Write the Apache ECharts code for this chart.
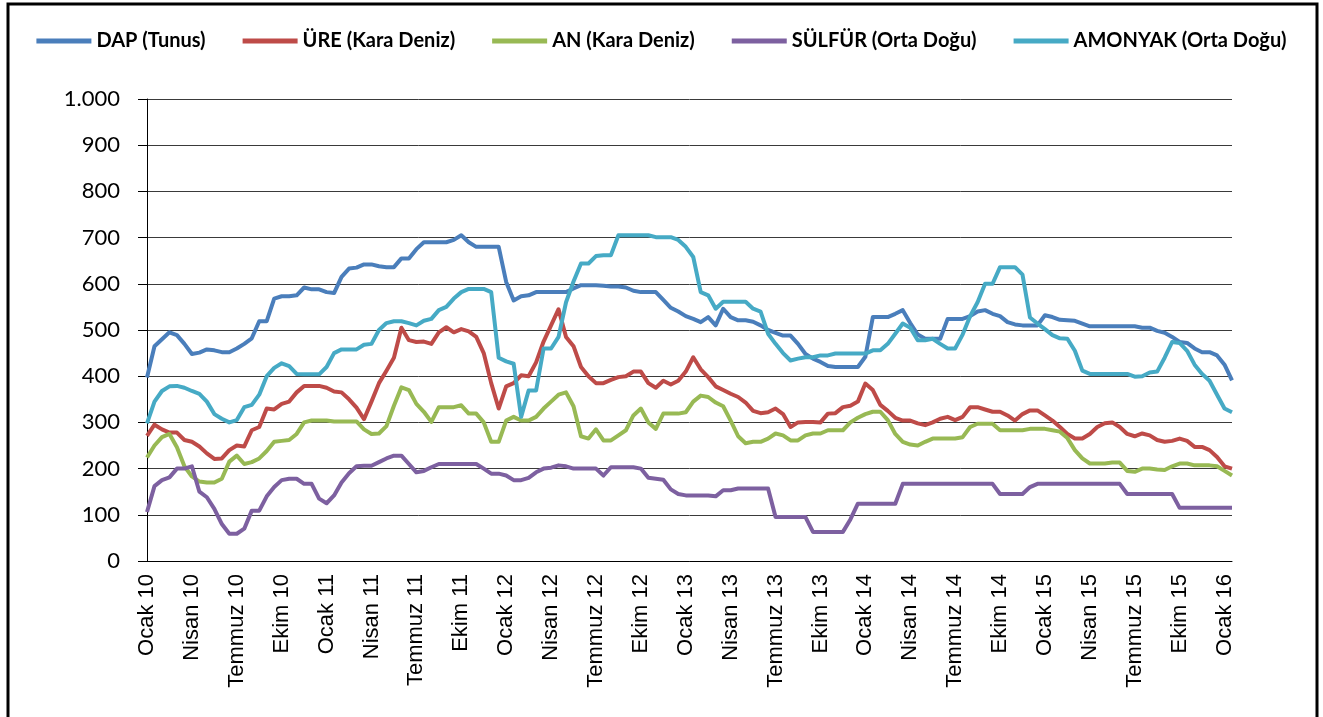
<!DOCTYPE html>
<html lang="tr" style="height: 100%">
<head>
  <meta charset="utf-8">
</head>
<body style="height: 100%; margin: 0; background: #fff">
<div id="container" style="width: 1323px; height: 717px"></div>

<script type="text/javascript" src="https://cdn.jsdelivr.net/npm/echarts@6.0.0/dist/echarts.min.js"></script>
<script type="text/javascript">
  // iki haftalik noktalar, Ocak 2010 - Ocak 2016 (146 nokta)
  var tickLabels = ['Ocak 10', 'Nisan 10', 'Temmuz 10', 'Ekim 10', 'Ocak 11', 'Nisan 11', 'Temmuz 11', 'Ekim 11',
    'Ocak 12', 'Nisan 12', 'Temmuz 12', 'Ekim 12', 'Ocak 13', 'Nisan 13', 'Temmuz 13', 'Ekim 13',
    'Ocak 14', 'Nisan 14', 'Temmuz 14', 'Ekim 14', 'Ocak 15', 'Nisan 15', 'Temmuz 15', 'Ekim 15', 'Ocak 16'];

  var dap = [397, 465, 480, 495, 489, 470, 448, 451, 458, 456, 452, 452, 460, 470, 482, 519, 519, 568, 573, 573,
    575, 592, 588, 588, 582, 580, 615, 633, 635, 642, 642, 638, 636, 636, 655, 655, 675,
    690, 690, 690, 690, 695, 705, 690, 680, 680, 680, 680, 604, 564, 573, 575, 582, 582, 582, 582, 582,
    590, 597, 597, 597, 596, 594, 594, 592, 585, 582, 582, 582, 565, 548, 540, 530,
    524, 517, 528, 510, 546, 528, 521, 521, 518, 510, 500, 494, 488, 488, 470, 448, 438, 431, 422, 420,
    420, 420, 420, 442, 528, 528, 528, 535, 543, 515, 490, 481, 481, 481, 524, 524,
    524, 530, 540, 543, 535, 530, 517, 512, 510, 510, 510, 532, 528, 522, 521, 520, 514, 508, 508, 508,
    508, 508, 508, 508, 505, 505, 498, 494, 485, 474, 472, 460, 452, 452, 445, 425, 391];

  var ure = [271, 295, 285, 278, 278, 262, 258, 248, 233, 221, 222, 240, 250, 248, 283, 290, 330, 328, 340, 345,
    365, 379, 379, 379, 375, 367, 365, 350, 332, 307, 345, 385, 412, 440, 505, 478, 474,
    475, 470, 495, 506, 495, 502, 497, 485, 450, 385, 330, 378, 385, 402, 400, 430, 475, 510, 545, 485,
    465, 420, 400, 385, 385, 392, 398, 400, 410, 410, 385, 375, 390, 382, 390, 410,
    441, 415, 398, 378, 370, 362, 355, 343, 325, 320, 322, 330, 318, 290, 300, 301, 301, 300, 319, 320,
    333, 336, 345, 384, 370, 338, 325, 310, 304, 304, 298, 294, 300, 308, 312, 305,
    312, 333, 333, 328, 323, 323, 315, 304, 318, 326, 326, 315, 304, 290, 275, 265, 265, 275, 290, 298,
    300, 290, 275, 270, 276, 272, 262, 258, 260, 265, 260, 247, 247, 240, 225, 205, 200];

  var an = [224, 250, 268, 275, 246, 205, 183, 172, 170, 170, 178, 215, 228, 210, 214, 222, 238, 258, 260, 262,
    275, 300, 304, 304, 304, 302, 302, 302, 302, 285, 275, 276, 292, 336, 376, 370, 340,
    323, 301, 333, 333, 333, 337, 319, 319, 300, 258, 258, 304, 312, 304, 304, 312, 330, 345, 360, 365,
    335, 270, 265, 285, 261, 261, 272, 283, 315, 330, 300, 286, 319, 319, 319, 322,
    345, 358, 355, 343, 335, 304, 270, 255, 258, 258, 265, 276, 272, 261, 261, 272, 276, 276, 283, 283,
    283, 300, 310, 318, 323, 323, 305, 275, 258, 252, 250, 258, 265, 265, 265, 265,
    268, 290, 297, 297, 297, 283, 283, 283, 283, 286, 286, 286, 283, 280, 266, 240, 222, 211, 211, 211,
    213, 213, 195, 193, 200, 200, 198, 197, 205, 211, 211, 207, 207, 207, 205, 195, 185];

  var sulfur = [106, 162, 175, 181, 200, 200, 205, 150, 138, 113, 80, 59, 59, 70, 109, 109, 140, 160, 175, 178,
    178, 167, 167, 135, 125, 142, 170, 190, 205, 206, 206, 214, 222, 228, 228, 210, 192,
    195, 203, 210, 210, 210, 210, 210, 210, 200, 189, 189, 185, 175, 175, 180, 192, 200, 202, 207, 205,
    200, 200, 200, 200, 185, 203, 203, 203, 203, 200, 180, 178, 176, 155, 145, 142,
    142, 142, 142, 140, 153, 153, 157, 157, 157, 157, 157, 95, 95, 95, 95, 95, 63, 63, 63, 63,
    63, 90, 124, 124, 124, 124, 124, 124, 167, 167, 167, 167, 167, 167, 167, 167,
    167, 167, 167, 167, 167, 145, 145, 145, 145, 160, 167, 167, 167, 167, 167, 167, 167, 167, 167, 167,
    167, 167, 145, 145, 145, 145, 145, 145, 145, 115, 115, 115, 115, 115, 115, 115, 115];

  var amonyak = [298, 345, 368, 378, 379, 375, 368, 362, 345, 318, 308, 300, 305, 333, 338, 360, 400, 418, 428, 422,
    405, 404, 404, 404, 420, 450, 458, 458, 458, 468, 470, 500, 515, 519, 519, 515, 510,
    520, 524, 543, 550, 568, 582, 589, 589, 589, 582, 440, 432, 427, 312, 369, 369, 460, 460, 485, 560,
    605, 644, 644, 660, 662, 662, 705, 705, 705, 705, 705, 701, 701, 701, 695, 680,
    658, 582, 575, 546, 561, 561, 561, 561, 546, 540, 492, 470, 450, 434, 438, 441, 441, 445, 445, 449,
    449, 449, 449, 449, 456, 456, 470, 492, 514, 505, 478, 478, 481, 470, 460, 460,
    490, 530, 560, 600, 600, 636, 636, 636, 620, 527, 514, 502, 489, 482, 481, 455, 412, 405, 405, 405,
    405, 405, 405, 399, 400, 408, 410, 440, 474, 472, 455, 425, 405, 390, 360, 330, 322];

  var seriesNames = ['DAP (Tunus)', 'ÜRE (Kara Deniz)', 'AN (Kara Deniz)', 'SÜLFÜR (Orta Doğu)', 'AMONYAK (Orta Doğu)'];
  var seriesColors = ['#4a7ebb', '#be4b48', '#98b954', '#7d60a0', '#46aac5'];
  var seriesData = [dap, ure, an, sulfur, amonyak];

  var categories = [];
  for (var i = 0; i < dap.length; i++) categories.push(String(i));

  var dom = document.getElementById('container');
  var myChart = echarts.init(dom, null, { renderer: 'canvas' });

  var option = {
    animation: false,
    backgroundColor: '#fff',
    graphic: [{
      type: 'rect',
      shape: { x: 8, y: 4, width: 1309, height: 730 },
      style: { fill: 'none', stroke: '#000', lineWidth: 3 },
      silent: true
    }],
    legend: {
      top: 26,
      left: 'center',
      itemWidth: 55,
      itemHeight: 5,
      itemGap: 37,
      icon: 'rect',
      textStyle: { fontFamily: 'Lato', fontWeight: 'bold', fontSize: 20, color: '#000' },
      data: seriesNames
    },
    grid: { left: 147, right: 91, top: 99, bottom: 156, containLabel: false },
    xAxis: {
      type: 'category',
      boundaryGap: false,
      data: categories,
      axisLine: { lineStyle: { color: '#000', width: 1 } },
      axisTick: { show: false },
      axisLabel: {
        interval: function (idx) { return idx % 6 === 0; },
        rotate: 90,
        margin: 13,
        fontFamily: 'Liberation Sans',
        fontSize: 22,
        color: '#000',
        formatter: function (val, idx) { return tickLabels[idx / 6] || ''; }
      },
      splitLine: { show: false }
    },
    yAxis: {
      type: 'value',
      min: 0,
      max: 1000,
      interval: 100,
      axisLine: { show: true, lineStyle: { color: '#000', width: 1 } },
      axisTick: { show: true, length: 9, lineStyle: { color: '#000' } },
      axisLabel: {
        margin: 27,
        fontFamily: 'Lato',
        fontSize: 22,
        color: '#000',
        formatter: function (v) { return v >= 1000 ? '1.000' : String(v); }
      },
      splitLine: { lineStyle: { color: '#3a3a3a', width: 1 } }
    },
    series: seriesNames.map(function (name, i) {
      return {
        name: name,
        type: 'line',
        data: seriesData[i],
        showSymbol: false,
        symbol: 'none',
        lineStyle: { width: 4, color: seriesColors[i], join: 'round' },
        itemStyle: { color: seriesColors[i] }
      };
    })
  };

  myChart.setOption(option);
  window.addEventListener('resize', myChart.resize);
</script>
</body>
</html>
